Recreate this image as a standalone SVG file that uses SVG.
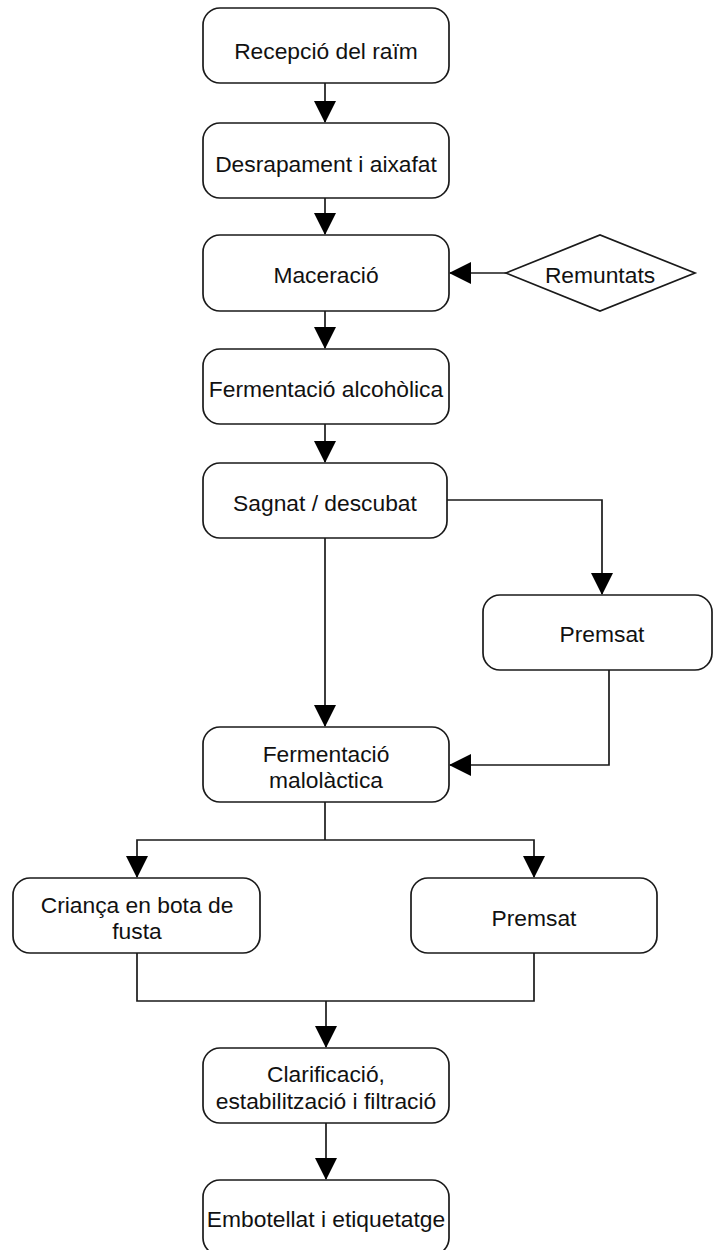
<svg xmlns="http://www.w3.org/2000/svg" width="723" height="1250" viewBox="0 0 723 1250">
<defs>
<style>
.box{fill:#fff;stroke:#1a1a1a;stroke-width:1.7}
.t{font-family:"Liberation Sans",Arial,sans-serif;font-size:22.8px;fill:#111;text-anchor:middle}
.c{fill:none;stroke:#1a1a1a;stroke-width:1.7}
</style>
<marker id="ah" markerUnits="userSpaceOnUse" markerWidth="22" markerHeight="22" viewBox="0 0 22 22" refX="21" refY="11" orient="auto">
<path d="M0,0 L22,11 L0,22 Z" fill="#000"/>
</marker>
</defs>
<rect width="723" height="1250" fill="#fff"/>
<g id="connectors">
<path class="c" d="M325,83 V122" marker-end="url(#ah)"/>
<path class="c" d="M325,198 V234" marker-end="url(#ah)"/>
<path class="c" d="M506,273 H450" marker-end="url(#ah)"/>
<path class="c" d="M325,311 V348" marker-end="url(#ah)"/>
<path class="c" d="M325,424 V462" marker-end="url(#ah)"/>
<path class="c" d="M447,500 H602 V594" marker-end="url(#ah)"/>
<path class="c" d="M325,538 V726" marker-end="url(#ah)"/>
<path class="c" d="M609,670 V765 H450" marker-end="url(#ah)"/>
<path class="c" d="M325,802 V840"/>
<path class="c" d="M325,840 H137 V877" marker-end="url(#ah)"/>
<path class="c" d="M325,840 H534 V877" marker-end="url(#ah)"/>
<path class="c" d="M137,953 V1001 H534 V953"/>
<path class="c" d="M326,1001 V1047" marker-end="url(#ah)"/>
<path class="c" d="M326,1123 V1179" marker-end="url(#ah)"/>
</g>
<g id="n1"><rect class="box" x="203" y="8" width="246" height="75" rx="17"/><text class="t" x="326" y="59">Recepció del raïm</text></g>
<g id="n2"><rect class="box" x="203" y="123" width="246" height="75" rx="17"/><text class="t" x="326" y="172">Desrapament i aixafat</text></g>
<g id="n3"><rect class="box" x="203" y="235" width="246" height="76" rx="17"/><text class="t" x="326" y="283">Maceració</text></g>
<g id="n4"><polygon class="box" points="506,273 600,235 695,273 600,311"/><text class="t" x="600" y="283">Remuntats</text></g>
<g id="n5"><rect class="box" x="203" y="349" width="246" height="75" rx="17"/><text class="t" x="326" y="397">Fermentació alcohòlica</text></g>
<g id="n6"><rect class="box" x="203" y="463" width="244" height="75" rx="17"/><text class="t" x="325" y="511">Sagnat / descubat</text></g>
<g id="n7"><rect class="box" x="483" y="595" width="229" height="75" rx="17"/><text class="t" x="602" y="642">Premsat</text></g>
<g id="n8"><rect class="box" x="203" y="727" width="246" height="75" rx="17"/><text class="t" x="326" y="762">Fermentació</text><text class="t" x="326" y="788">malolàctica</text></g>
<g id="n9"><rect class="box" x="13" y="878" width="247" height="75" rx="17"/><text class="t" x="137" y="913">Criança en bota de</text><text class="t" x="137" y="939">fusta</text></g>
<g id="n10"><rect class="box" x="411" y="878" width="246" height="75" rx="17"/><text class="t" x="534" y="926">Premsat</text></g>
<g id="n11"><rect class="box" x="203" y="1048" width="246" height="75" rx="17"/><text class="t" x="326" y="1082">Clarificació,</text><text class="t" x="326" y="1109">estabilització i filtració</text></g>
<g id="n12"><rect class="box" x="203" y="1180" width="246" height="75" rx="17"/><text class="t" x="326" y="1227">Embotellat i etiquetatge</text></g>
</svg>
